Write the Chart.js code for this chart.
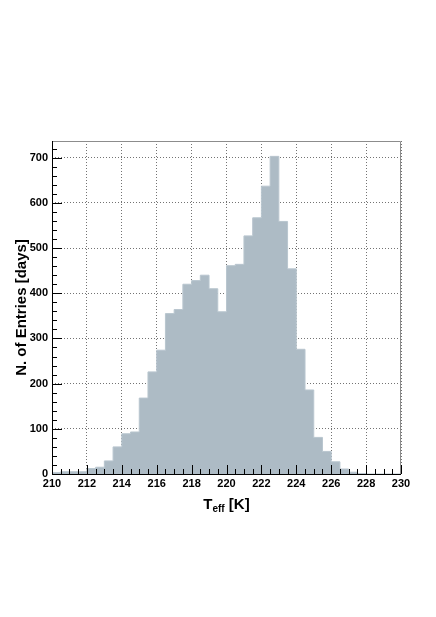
<!DOCTYPE html>
<html>
<head>
<meta charset="utf-8">
<script src="https://cdn.jsdelivr.net/npm/chart.js@4.4.0/dist/chart.umd.min.js"></script>
<style>
  html, body { margin: 0; padding: 0; background: #fff; }
  canvas { display: block; }
</style>
</head>
<body>
<canvas id="my-chart" width="436" height="617"></canvas>
<script>
// histogram of T_eff, 0.5 K bins from 210 to 230
const binEdges = [210, 210.5, 211, 211.5, 212, 212.5, 213, 213.5, 214, 214.5,
  215, 215.5, 216, 216.5, 217, 217.5, 218, 218.5, 219, 219.5,
  220, 220.5, 221, 221.5, 222, 222.5, 223, 223.5, 224, 224.5,
  225, 225.5, 226, 226.5, 227, 227.5, 228, 228.5, 229, 229.5];
const entries = [3, 5, 5, 5, 12, 15, 29, 60, 89, 93,
  168, 226, 274, 355, 364, 420, 428, 440, 410, 359,
  461, 464, 527, 567, 637, 703, 559, 454, 276, 186,
  81, 50, 27, 11, 4, 1, 0, 0, 0, 0];
const xTicks = [210, 212, 214, 216, 218, 220, 222, 224, 226, 228, 230];
const yTicks = [0, 100, 200, 300, 400, 500, 600, 700];

const xMin = 210, xMax = 230, yMax = 737;

// step line: point at each bin's left edge, plus the closing edge
const points = binEdges.map((x, i) => ({ x: x, y: entries[i] }));
points.push({ x: xMax, y: entries[entries.length - 1] });

const frame = {
  id: 'frame',
  afterDraw(chart) {
    const ctx = chart.ctx;
    const a = chart.chartArea;
    const xs = chart.scales.x, ys = chart.scales.y;
    ctx.save();
    // top/right frame
    ctx.strokeStyle = '#8c8c8c';
    ctx.lineWidth = 1;
    ctx.beginPath();
    ctx.moveTo(a.left, a.top + 0.5);
    ctx.lineTo(a.right - 0.5, a.top + 0.5);
    ctx.lineTo(a.right - 0.5, a.bottom);
    ctx.stroke();
    // axes
    ctx.strokeStyle = '#000';
    ctx.beginPath();
    ctx.moveTo(a.left + 0.5, a.top);
    ctx.lineTo(a.left + 0.5, a.bottom + 0.5);
    ctx.lineTo(a.right, a.bottom + 0.5);
    ctx.stroke();
    // x ticks, inside
    ctx.beginPath();
    for (let v = xMin; v <= xMax; v += 0.5) {
      const px = Math.round(xs.getPixelForValue(v)) + 0.5;
      const len = (v % 2 === 0) ? 9 : 5;
      ctx.moveTo(px, a.bottom);
      ctx.lineTo(px, a.bottom - len);
    }
    // y ticks, inside
    for (let v = 0; v <= yMax; v += 20) {
      const py = Math.round(ys.getPixelForValue(v)) + 0.5;
      const len = (v % 100 === 0) ? 10 : 5;
      ctx.moveTo(a.left, py);
      ctx.lineTo(a.left + len, py);
    }
    ctx.stroke();
    // x title with subscript
    const big = 'bold 15px "Liberation Sans", Arial, sans-serif';
    const small = 'bold 10px "Liberation Sans", Arial, sans-serif';
    ctx.fillStyle = '#000';
    ctx.textBaseline = 'alphabetic';
    ctx.font = big;
    const wT = ctx.measureText('T').width;
    const wK = ctx.measureText(' [K]').width;
    ctx.font = small;
    const wSub = ctx.measureText('eff').width;
    const total = wT + wSub + wK;
    const x0 = (a.left + a.right) / 2 - total / 2;
    const base = 509;
    ctx.font = big;
    ctx.fillText('T', x0, base);
    ctx.font = small;
    ctx.fillText('eff', x0 + wT, base + 3);
    ctx.font = big;
    ctx.fillText(' [K]', x0 + wT + wSub, base);
    ctx.restore();
  }
};

const ctx = document.getElementById('my-chart').getContext('2d');
const chart = new Chart(ctx, {
  type: 'line',
  data: {
    datasets: [{
      label: 'T_eff',
      data: points,
      stepped: 'before',
      fill: 'origin',
      backgroundColor: '#adbbc5',
      borderColor: '#b9c6cf',
      borderWidth: 1,
      pointRadius: 0
    }]
  },
  options: {
    responsive: false,
    devicePixelRatio: 1,
    animation: false,
    layout: { padding: { left: 0, right: 35, top: 141, bottom: 113 } },
    plugins: { legend: { display: false }, tooltip: { enabled: false } },
    scales: {
      x: {
        type: 'linear',
        min: xMin,
        max: xMax,
        afterFit: s => { s.height = 30; },
        afterBuildTicks: s => { s.ticks = xTicks.map(v => ({ value: v })); },
        grid: { color: 'rgba(0,0,0,0.55)', lineWidth: 1, drawTicks: false },
        border: { display: false, dash: [1, 2] },
        ticks: {
          color: '#000',
          font: { family: '"Liberation Sans", Arial, sans-serif', size: 11, weight: 'bold' },
          padding: 3,
          maxRotation: 0,
          autoSkip: false
        }
      },
      y: {
        min: 0,
        max: yMax,
        afterFit: s => { s.width = 52; },
        afterBuildTicks: s => { s.ticks = yTicks.map(v => ({ value: v })); },
        grid: { color: 'rgba(0,0,0,0.55)', lineWidth: 1, drawTicks: false },
        border: { display: false, dash: [1, 2] },
        ticks: {
          color: '#000',
          font: { family: '"Liberation Sans", Arial, sans-serif', size: 11, weight: 'bold' },
          padding: 4,
          autoSkip: false
        },
        title: {
          display: true,
          text: 'N. of Entries [days]',
          color: '#000',
          font: { family: '"Liberation Sans", Arial, sans-serif', size: 15, weight: 'bold', lineHeight: 1.2 },
          padding: { top: 13, bottom: 0 }
        }
      }
    }
  },
  plugins: [frame]
});
</script>
</body>
</html>
